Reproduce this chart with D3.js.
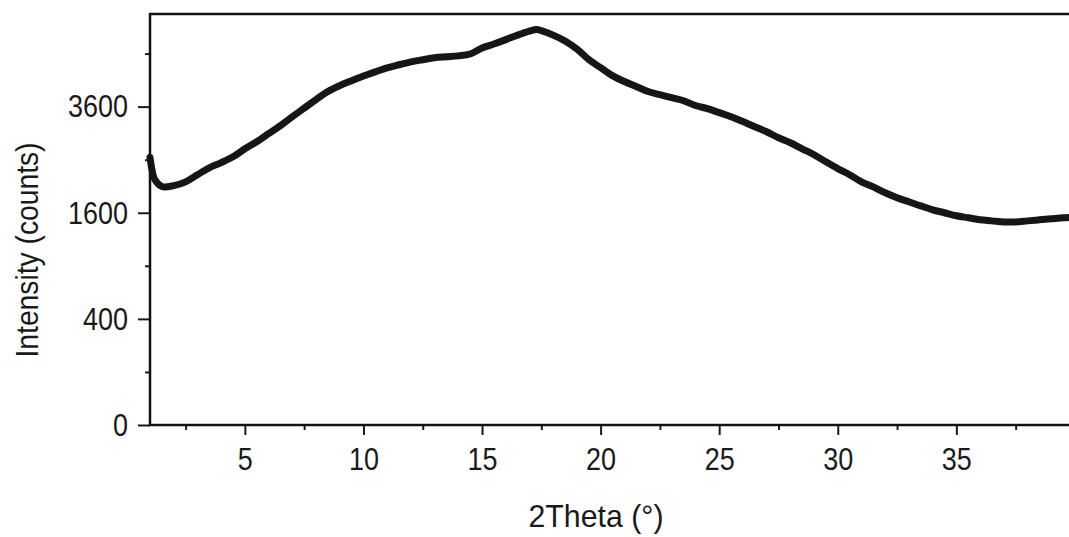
<!DOCTYPE html>
<html>
<head>
<meta charset="utf-8">
<script src="https://cdn.jsdelivr.net/npm/d3@7"></script>
<style>
    html, body { margin: 0; padding: 0; background: #ffffff; }
    svg { display: block; }
    .tick text, .axis-title {
        font-family: "Liberation Sans", Arial, sans-serif;
        fill: #1a1a1a;
    }
</style>
</head>
<body>
<svg id="chart" width="1069" height="537"></svg>
<script>
// ============================================================
// Data (amorphous halo)
// 2Theta in degrees, intensity in counts
// ============================================================
const twoTheta = [
    1.0, 1.1, 1.2, 1.5, 2.0, 2.5, 3.0, 3.5, 4.0, 4.5,
    5.0, 5.5, 6.0, 6.5, 7.0, 7.5, 8.0, 8.5, 9.0, 9.5,
    10.0, 10.5, 11.0, 11.5, 12.0, 12.5, 13.0, 13.5, 14.0, 14.5,
    15.0, 15.5, 16.0, 16.5, 17.0, 17.3, 17.5, 18.0, 18.5,
    19.0, 19.5, 20.0, 20.5, 21.0, 21.5, 22.0, 22.5, 23.0, 23.5,
    24.0, 24.5, 25.0, 25.5, 26.0, 26.5, 27.0, 27.5, 28.0, 28.5,
    29.0, 29.5, 30.0, 30.5, 31.0, 31.5, 32.0, 32.5, 33.0, 33.5,
    34.0, 34.5, 35.0, 35.5, 36.0, 36.5, 37.0, 37.5, 38.0, 38.5,
    39.0, 39.5, 39.75
];

const counts = [
    2540, 2280, 2140, 2020, 2035, 2100, 2225, 2350, 2445, 2555,
    2710, 2850, 3015, 3185, 3375, 3565, 3760, 3950, 4090, 4210,
    4325, 4430, 4530, 4610, 4685, 4740, 4790, 4815, 4840, 4890,
    5050, 5155, 5275, 5400, 5510, 5555, 5525, 5400, 5240,
    5020, 4745, 4535, 4335, 4190, 4070, 3950, 3875, 3805, 3735,
    3625, 3555, 3465, 3375, 3270, 3160, 3055, 2930, 2830, 2710,
    2595, 2460, 2335, 2225, 2100, 2015, 1915, 1835, 1770, 1705,
    1645, 1600, 1555, 1525, 1495, 1480, 1465, 1465, 1480, 1495,
    1510, 1525, 1530
];

// Axis ticks
const xMajorTicks = [5, 10, 15, 20, 25, 30, 35];
const xMinorTicks = [2.5, 7.5, 12.5, 17.5, 22.5, 27.5, 32.5, 37.5];
const yMajorTicks = [0, 400, 1600, 3600];
const yMinorTicks = [100, 900, 2500, 4900];

const xLabel = "2Theta (°)";
const yLabel = "Intensity (counts)";

// ============================================================
// Layout
// ============================================================
const plot = { left: 150, right: 1069, top: 14, bottom: 425 };
const FONT_SIZE = 32;
const DIGIT_WIDTH = 15;   // narrow face: squeeze glyphs to this width

const svg = d3.select("#chart");

const x = d3.scaleLinear()
    .domain([1, 39.75])
    .range([plot.left, plot.right]);

// intensity axis is square-root scaled (0, 400, 1600, 3600 evenly spaced)
const y = d3.scaleSqrt()
    .domain([0, 6000])
    .range([plot.bottom, plot.top]);

const points = twoTheta.map(function (t, i) {
    return { t: t, c: counts[i] };
});

// --- pattern ---
const line = d3.line()
    .x(function (d) { return x(d.t); })
    .y(function (d) { return y(d.c); })
    .curve(d3.curveCatmullRom.alpha(0.5));

svg.append("path")
    .datum(points)
    .attr("d", line)
    .attr("fill", "none")
    .attr("stroke", "#161616")
    .attr("stroke-width", 7)
    .attr("stroke-linejoin", "round")
    .attr("stroke-linecap", "round");

// --- axes ---
svg.append("g")
    .attr("transform", "translate(0," + plot.bottom + ")")
    .call(d3.axisBottom(x).tickValues(xMajorTicks).tickSize(10).tickPadding(12).tickFormat(d3.format("d")));

svg.append("g")
    .attr("transform", "translate(0," + plot.bottom + ")")
    .call(d3.axisBottom(x).tickValues(xMinorTicks).tickSize(5).tickFormat(""));

svg.append("g")
    .attr("transform", "translate(" + plot.left + ",0)")
    .call(d3.axisLeft(y).tickValues(yMajorTicks).tickSize(12).tickPadding(10).tickFormat(d3.format("d")));

svg.append("g")
    .attr("transform", "translate(" + plot.left + ",0)")
    .call(d3.axisLeft(y).tickValues(yMinorTicks).tickSize(5).tickFormat(""));

svg.selectAll(".domain").remove();
svg.selectAll(".tick line").attr("stroke", "#1a1a1a").attr("stroke-width", 2);
svg.selectAll(".tick text")
    .attr("font-size", FONT_SIZE)
    .attr("lengthAdjust", "spacingAndGlyphs")
    .attr("textLength", function () { return this.textContent.length * DIGIT_WIDTH; });

// frame: top, left and bottom (the right side runs off the page)
svg.append("path")
    .attr("d", "M" + plot.right + "," + plot.top +
               "H" + plot.left + "V" + plot.bottom + "H" + plot.right)
    .attr("fill", "none")
    .attr("stroke", "#111111")
    .attr("stroke-width", 2.5);

// --- axis titles ---
svg.append("text")
    .attr("class", "axis-title")
    .attr("x", 596)
    .attr("y", 527)
    .attr("text-anchor", "middle")
    .attr("font-size", FONT_SIZE)
    .attr("lengthAdjust", "spacingAndGlyphs")
    .attr("textLength", 135)
    .text(xLabel);

svg.append("text")
    .attr("class", "axis-title")
    .attr("transform", "translate(38,250) rotate(-90)")
    .attr("text-anchor", "middle")
    .attr("font-size", FONT_SIZE)
    .attr("lengthAdjust", "spacingAndGlyphs")
    .attr("textLength", 215)
    .text(yLabel);
</script>
</body>
</html>
